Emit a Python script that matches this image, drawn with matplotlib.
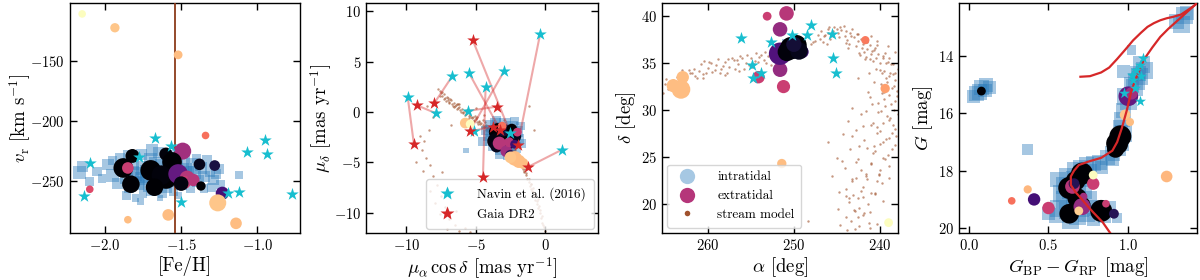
import matplotlib

matplotlib.use("Agg")

import matplotlib.pyplot as plt
from matplotlib.lines import Line2D

plt.rcParams.update({
    "font.family": "serif",
    "font.serif": ["cmr10"],
    "mathtext.fontset": "cm",
    "axes.formatter.use_mathtext": True,
    "axes.unicode_minus": True,
    "xtick.direction": "in",
    "ytick.direction": "in",
    "xtick.top": True,
    "ytick.right": True,
    "xtick.labelsize": 10.5,
    "ytick.labelsize": 10.5,
    "axes.labelsize": 13.5,
    "axes.linewidth": 1.0,
})

INTRA_COLOR = "#2b7bba"
STREAM_COLOR = "#a0522d"
NAVIN_COLOR = "#17becf"
GAIA_COLOR = "#d62728"

# ---- panel 1: [Fe/H] vs radial velocity ----
feh_intra = [-2.17, -2.15, -2.05, -2.02, -1.98, -1.95, -1.92, -1.90, -1.88, -1.86, -1.84, -1.82, -1.80, -1.78,
             -1.76, -1.75, -1.73, -1.71, -1.70, -1.68, -1.66, -1.65, -1.63, -1.61, -1.60, -1.58, -1.56, -1.55,
             -1.53, -1.51, -1.50, -1.48, -1.47, -1.45, -1.43, -1.41, -1.39, -1.37, -1.35, -1.33, -1.31, -1.29,
             -1.27, -1.25, -1.24, -1.12, -1.80, -1.77, -1.86, -1.62, -1.55, -1.70, -1.64, -1.58, -1.85, -1.69,
             -1.44, -1.35, -1.52, -2.10, -1.95, -1.40, -1.30, -1.75,
             -1.82, -1.76, -1.70, -1.64, -1.58, -1.52, -1.46, -1.79, -1.67, -1.61, -1.49, -1.73, -1.55]
vr_intra = [-243, -238, -242, -248, -236, -245, -252, -231, -240, -247, -256, -235, -244, -251,
            -228, -239, -246, -254, -232, -243, -250, -226, -237, -247, -255, -231, -241, -249,
            -236, -244, -252, -230, -240, -247, -236, -243, -250, -239, -246, -233, -242, -249,
            -244, -240, -253, -245, -264, -267, -262, -260, -258, -258, -264, -228, -228, -224,
            -256, -256, -262, -250, -233, -231, -255, -260,
            -243, -248, -239, -244, -238, -248, -243, -252, -235, -251, -240, -242, -245]
size1_intra = [90, 60, 50, 40, 70, 90, 60, 50, 90, 90, 50, 90, 90, 90,
               60, 90, 90, 70, 90, 90, 90, 70, 90, 90, 80, 90, 90, 90,
               90, 90, 80, 70, 90, 90, 80, 90, 80, 70, 70, 60, 60, 60,
               50, 50, 40, 30, 30, 25, 40, 40, 50, 50, 20, 50, 40, 70,
               40, 40, 30, 40, 40, 40, 40, 40,
               90, 90, 90, 90, 90, 90, 90, 90, 90, 90, 90, 90, 90]

feh_extra = [-2.15, -1.935, -1.52, -1.34, -1.49, -1.82, -1.60, -1.56, -1.38, -1.28, -1.88, -1.70, -1.60,
             -1.63, -1.52, -1.46, -1.48, -1.42, -1.83, -1.675, -1.50, -1.37, -1.23, -2.10, -1.26, -1.585,
             -1.85, -1.14, -1.85]
vr_extra = [-111, -122.5, -145, -212, -225, -229, -227.5, -234, -236, -237, -239, -241, -247,
            -245, -244, -247.5, -251, -249, -252.5, -255, -252, -254, -260, -256.7, -268, -278,
            -282, -285, -239]
c1_extra = [1.0, 0.88, 0.86, 0.7, 0.45, 0.0, 0.02, 0.0, 0.05, 0.12, 0.0, 0.0, 0.0,
            0.02, 0.3, 0.5, 0.55, 0.5, 0.0, 0.0, 0.03, 0.0, 0.22, 0.6, 0.88, 0.86,
            0.86, 0.86, 0.55]
s1_extra = [30, 45, 40, 30, 150, 100, 90, 200, 70, 60, 200, 220, 260,
            200, 200, 120, 90, 80, 160, 160, 110, 45, 90, 30, 150, 70,
            30, 70, 70]

feh_navin = [-2.135, -2.10, -1.78, -1.675, -1.565, -1.50, -1.19, -1.12, -1.07, -0.95, -0.935, -0.77]
vr_navin = [-262.5, -235, -230, -214, -221, -267.5, -260, -259, -226, -216, -227.5, -260.8]

feh_cluster = -1.54

# ---- panel 2: proper motions ----
pmra_stream = [-7.6, -7.5, -7.4, -7.3, -7.2, -7.1, -7.0, -6.9, -6.8, -6.7, -6.6, -6.5, -6.4, -6.3, -6.2, -6.1,
               -6.0, -5.9, -5.8, -5.7, -5.6, -5.5, -5.4, -5.3, -5.2, -5.1, -5.0, -4.9, -4.8, -4.7, -4.6, -4.5,
               -4.4, -4.3, -4.2, -4.1, -4.0, -3.9, -3.8,
               -2.4, -2.3, -2.2, -2.1, -2.0, -1.9, -1.8, -1.7, -1.6, -1.5, -1.4, -1.3, -1.2, -1.1, -1.0, -0.9,
               -0.8, -0.7, -0.6, -0.5, -0.4, -0.3, -0.2, -0.1, 0.0,
               -8.1, -8.4, -8.7, -8.9, -8.6, -8.3, -8.8, -8.1, -7.8, -8.3, -7.5, -7.9, -7.2, -7.6, -6.9, -6.5,
               -7.1, -6.2, -5.8, -8.5, -9.0, -9.3, -7.4, -7.0, -6.4, -5.4, -4.4, -3.0, -1.2, -0.8, -6.8, -5.0,
               -7.7, -6.35, -5.65, -4.95, -4.25, -2.15, -1.55, -0.95, -0.35,
               -7.55, -7.25, -6.95, -6.65, -6.35, -6.05, -5.75, -5.45, -5.15, -4.85, -4.55, -4.25, -3.95, -3.65,
               -7.0, -6.2, -5.6, -4.9, -4.3, -2.35, -2.05, -1.75, -1.45, -1.15, -0.85, -0.55, -0.25, -2.2, -1.6,
               -1.0, -0.6,
               -7.45, -7.15, -6.85, -6.55, -6.25, -5.95, -5.65, -5.35, -5.05, -4.75, -4.45, -4.15, -3.85, -2.45,
               -2.25, -1.95, -1.65, -1.35, -1.05, -0.75, -0.45, -0.15]
pmdec_stream = [2.1, 1.9, 1.6, 1.8, 1.4, 1.5, 1.2, 1.0, 1.2, 0.8, 0.9, 0.6, 0.7, 0.4, 0.5, 0.2,
                0.3, 0.0, 0.1, -0.2, -0.1, -0.4, -0.3, -0.6, -0.5, -0.8, -0.7, -1.0, -0.9, -1.2, -1.1, -1.3,
                -1.5, -1.4, -1.7, -1.6, -1.9, -1.8, -2.1,
                -3.6, -3.9, -4.1, -4.4, -4.6, -4.9, -5.1, -5.5, -5.7, -6.0, -6.3, -6.6, -6.9, -7.3, -7.6, -7.9,
                -8.3, -8.7, -9.1, -9.5, -10.0, -10.5, -11.0, -11.4, -11.8,
                -0.5, -1.8, -2.9, -3.8, -4.6, -5.3, -5.9, -6.4, -7.2, -7.8, -8.3, -9.0, -9.4, -10.1, -10.6, -11.2,
                -11.6, -11.8, -11.5, 0.6, -2.4, -5.0, -6.0, -8.0, -9.8, -11.9, -0.3, -0.8, 0.6, -1.8, -1.3, 0.4,
                2.3, 0.75, 0.05, -0.55, -1.25, -4.3, -5.9, -7.8, -9.7,
                1.6, 1.3, 0.9, 0.6, 0.3, 0.0, -0.3, -0.6, -0.9, -1.2, -1.5, -1.8, -2.1, -2.4,
                1.4, 0.8, 0.2, -0.5, -1.0, -3.9, -4.3, -5.0, -5.7, -6.6, -7.5, -8.6, -10.3, -3.8, -5.4,
                -7.1, -8.8,
                2.0, 1.1, 1.3, 0.5, 0.8, -0.1, 0.2, -0.5, -0.4, -1.0, -0.8, -1.9, -1.6, -3.4,
                -3.7, -4.4, -5.2, -6.1, -7.1, -8.1, -9.3, -11.2]

pmra_intra = [-4.3, -4.1, -4.0, -3.9, -3.8, -3.7, -3.6, -3.5, -3.4, -3.3, -3.2, -3.1, -3.0, -2.9, -2.8, -2.7,
              -2.6, -2.5, -2.4, -2.3, -2.2, -2.1, -2.0, -1.9, -1.8, -3.3, -2.7, -4.5, -1.7, -5.7, -3.5, -2.2]
pmdec_intra = [-1.8, -2.3, -1.3, -2.8, -1.9, -3.3, -1.1, -2.4, -3.0, -1.6, -3.7, -2.1, -2.8, -1.2, -3.3, -1.8,
               -2.5, -3.9, -1.5, -3.0, -2.2, -3.5, -1.9, -2.7, -1.4, -4.2, -4.3, -2.9, -3.1, -3.8, -0.8, -0.9]
size2_intra = [40, 60, 50, 70, 80, 60, 60, 90, 90, 90, 70, 90, 90, 70, 90, 90,
               90, 60, 70, 80, 80, 60, 60, 50, 40, 40, 40, 40, 40, 15, 40, 40]

pmra_extra = [-3.4, -3.1, -2.7, -3.6, -2.5, -2.2, -3.0, -2.4, -2.8, -3.5, -3.3, -2.8, -2.6, -3.1, -2.0,
              -2.5, -2.2, -2.2, -1.9, -1.6, -2.5, -5.75, -5.4]
pmdec_extra = [-2.0, -2.6, -2.2, -2.9, -2.8, -2.4, -1.8, -1.7, -3.4, -3.4, -3.1, -3.9, -3.0, -1.4, -2.0,
               -4.3, -3.2, -4.6, -4.9, -5.1, -4.5, -1.1, -1.2]
c2_extra = [0.0, 0.0, 0.02, 0.03, 0.0, 0.05, 0.1, 0.0, 0.12, 0.05, 0.5, 0.45, 0.5, 0.7, 0.55,
            0.15, 0.2, 0.86, 0.86, 0.86, 0.88, 0.88, 1.0]
s2_extra = [170, 200, 150, 130, 120, 90, 80, 60, 70, 80, 90, 70, 50, 40, 40,
            60, 40, 110, 90, 60, 70, 60, 40]

pmra_navin = [-9.9, -7.86, -6.69, -5.49, -4.29, -2.52, -2.95, -5.59, -0.36, 1.2, -5.1]
pmdec_navin = [1.5, -0.13, 3.55, 3.88, 2.5, -2.04, 4.07, 0.1, 7.76, -3.75, -1.84]
pmra_gaia = [-9.45, -9.23, -7.99, -3.24, -4.48, -5.23, -5.4, -3.48, -1.97, -1.25, -3.77]
pmdec_gaia = [-3.2, 0.66, 0.86, -1.78, -6.44, 7.17, -1.84, 0.53, -3.25, -5.46, -1.45]

# ---- panel 3: sky positions ----
ra_stream = [265.0, 264.5, 264.0, 263.5, 263.0, 262.5, 262.0, 261.5, 261.0, 260.5, 260.0, 259.5, 259.0, 258.5,
             258.0, 257.5, 257.0, 256.5, 256.0, 255.5, 255.0, 254.5, 254.0, 253.5, 253.0, 252.5, 259.8, 261.2,
             257.8, 256.2, 263.8, 254.8, 262.8, 260.8, 258.8, 256.8, 254.2, 252.8,
             248.0, 247.5, 247.0, 246.5, 246.0, 245.5, 245.0, 244.5, 244.0, 243.5, 243.0, 242.5, 242.0, 241.5,
             241.0, 240.5, 240.0, 239.5, 246.8, 245.8, 244.8, 243.8, 242.8, 241.8, 240.8, 239.8, 244.2, 246.2,
             243.2, 242.2, 241.2, 240.2, 239.0, 238.5, 245.3, 243.6, 242.6, 241.6, 240.6, 239.3, 238.2,
             239.2, 238.6, 239.8, 238.3, 239.4, 240.2, 238.8, 239.6, 238.2, 240.4, 239.0, 240.0, 238.6, 240.8,
             239.4, 241.0, 240.0, 241.6, 240.4, 242.0, 241.0, 242.6, 241.4, 243.0, 242.0, 243.4, 242.4, 243.8,
             241.2, 238.4, 238.1, 239.0, 240.6, 242.4, 243.6, 244.0, 237.9, 239.8, 241.8, 244.6, 240.8, 239.6,
             242.2, 245.6, 244.4, 244.0, 248.3, 246.0, 243.3, 238.9, 239.5, 240.9, 241.5, 242.8, 244.9, 243.1,
             238.0, 238.5, 239.1, 240.1, 241.3, 242.9,
             238.3, 239.1, 240.3, 241.1, 238.7, 239.7, 240.7, 238.2, 239.3, 240.5, 241.7, 238.9, 239.9, 241.3,
             242.3, 239.2, 240.2, 241.4, 242.6, 240.0, 241.0, 242.2, 243.2, 240.6, 241.8, 242.8, 243.7, 241.6,
             242.5, 243.5, 244.3, 242.2, 243.3, 244.1, 245.0, 242.9, 243.9, 244.8, 237.95, 238.05, 238.6, 239.4,
             264.8, 263.2, 261.8, 260.2, 258.2, 257.2, 255.2, 253.8, 262.2, 259.2, 256.6, 254.4, 265.2, 252.2,
             247.8, 247.2, 246.6, 246.0, 245.4, 244.6, 243.9, 243.4, 242.7, 242.1, 241.5, 240.9, 240.3, 239.7,
             239.1, 238.5, 245.9, 244.9, 243.7, 242.4, 241.2, 240.0, 238.8, 246.4, 244.1,
             238.4, 239.5, 240.7, 238.7, 239.9, 241.2, 239.0, 240.3, 241.6, 239.3, 240.7, 242.0, 239.7, 241.1,
             242.4, 240.1, 241.5, 242.8, 240.6, 242.0, 243.2, 241.2, 242.6, 243.6, 238.2, 238.9, 239.6, 240.4,
             264.6, 263.6, 262.6, 261.6, 260.6, 259.6, 258.6, 257.6, 256.4, 255.4, 254.6, 253.4, 252.6, 263.0,
             260.4, 258.0, 255.8, 253.2]
dec_stream = [32.8, 32.4, 33.2, 33.0, 33.6, 33.3, 34.0, 33.6, 34.2, 33.8, 34.5, 34.1, 34.8, 34.4,
              35.1, 34.6, 35.3, 34.9, 35.5, 35.0, 35.6, 35.2, 35.7, 35.3, 35.8, 35.5, 35.1, 33.4,
              34.0, 35.8, 32.6, 34.6, 32.9, 34.9, 35.4, 34.4, 35.1, 36.0,
              37.0, 37.4, 37.6, 37.9, 38.2, 38.4, 38.6, 38.5, 38.4, 38.2, 37.8, 37.4, 37.0, 36.5,
              36.0, 35.5, 35.0, 34.2, 38.4, 37.6, 37.8, 37.5, 36.8, 36.2, 35.2, 34.0, 39.0, 37.0,
              38.6, 37.6, 36.9, 36.0, 35.5, 33.8, 38.9, 37.0, 38.1, 35.7, 36.6, 35.0, 33.2,
              33.0, 32.4, 31.8, 31.0, 30.4, 29.8, 29.2, 28.6, 28.0, 27.6, 27.0, 26.4, 25.8, 25.4,
              24.8, 24.2, 23.6, 23.0, 22.4, 21.8, 21.2, 20.6, 20.0, 19.4, 18.8, 18.2, 17.6, 17.2,
              17.4, 30.0, 27.2, 24.0, 21.0, 19.6, 20.2, 18.6, 29.6, 22.2, 19.0, 17.8, 28.6, 26.6,
              23.6, 23.0, 24.6, 21.6, 18.2, 26.6, 27.2, 33.6, 31.2, 30.6, 26.0, 22.8, 19.5, 20.9,
              32.0, 28.4, 25.2, 23.2, 18.0, 17.3,
              36.2, 36.8, 37.4, 37.9, 34.9, 35.8, 36.4, 33.9, 33.4, 34.4, 35.4, 31.6, 32.8, 33.9,
              35.9, 29.4, 30.8, 31.9, 33.4, 27.8, 28.4, 29.6, 30.2, 25.6, 26.8, 27.9, 28.8, 23.2,
              24.8, 25.9, 27.4, 21.4, 22.6, 23.8, 24.9, 19.2, 20.8, 21.3, 34.4, 31.5, 27.6, 36.1,
              33.3, 32.9, 33.9, 34.0, 34.7, 35.6, 34.8, 35.9, 34.3, 34.3, 35.3, 36.1, 31.8, 35.9,
              37.2, 38.0, 37.3, 38.6, 37.9, 38.9, 37.1, 37.9, 38.1, 36.6, 37.2, 36.3, 36.9, 35.6,
              35.1, 34.9, 38.9, 38.2, 36.6, 36.1, 35.4, 34.3, 33.9, 38.0, 37.9,
              32.6, 31.9, 33.0, 30.6, 29.9, 31.4, 28.9, 28.2, 29.9, 26.9, 26.2, 28.3, 24.9, 24.4,
              26.2, 23.1, 22.6, 24.5, 21.2, 20.7, 22.4, 19.1, 18.6, 20.6, 26.3, 22.8, 20.3, 17.9,
              32.2, 33.5, 32.8, 34.4, 33.4, 35.0, 33.9, 35.4, 34.2, 35.9, 34.9, 36.2, 34.8, 34.3,
              35.2, 33.7, 34.4, 35.0]

ra_intra = [250.5, 249.8, 250.2, 249.5, 250.8, 249.2, 251.0, 250.0]
dec_intra = [36.5, 36.8, 36.0, 36.3, 37.0, 36.9, 36.2, 37.3]
size3_intra = [60, 60, 60, 60, 50, 50, 50, 50]

ra_extra = [253.1, 250.85, 251.6, 251.6, 254.1, 251.2, 251.6, 249.0, 250.3, 249.7, 250.8, 249.4, 250.0,
            262.9, 264.0, 263.1, 251.4, 241.7, 239.4, 239.0]
dec_extra = [40.0, 40.3, 38.6, 34.3, 33.5, 32.5, 36.0, 36.2, 36.6, 36.9, 36.2, 36.3, 37.0,
             33.5, 32.6, 32.2, 24.3, 37.45, 32.3, 18.0]
c3_extra = [0.55, 0.5, 0.42, 0.42, 0.55, 0.55, 0.25, 0.2, 0.0, 0.0, 0.02, 0.05, 0.1,
            0.86, 0.86, 0.86, 0.86, 0.72, 0.8, 1.0]
s3_extra = [40, 110, 110, 110, 80, 90, 260, 80, 260, 220, 180, 160, 120,
            80, 90, 180, 45, 35, 45, 40]

ra_navin = [256.1, 254.9, 254.7, 253.8, 252.6, 250.2, 248.5, 248.0, 245.6, 245.4, 245.1]
dec_navin = [37.7, 34.8, 33.4, 34.0, 37.3, 38.0, 38.0, 39.1, 38.1, 35.5, 33.9]

# ---- panel 4: colour-magnitude diagram ----
bprp_intra = [0.05, 0.08, 0.11, 0.13, 0.03, 0.07, 0.10,
              1.35, 1.33, 1.30, 1.37, 1.08, 1.10, 1.07, 1.05, 1.04, 1.06, 1.02, 0.98, 1.00, 0.97, 0.96,
              0.95, 0.97, 0.95, 0.93, 0.90, 0.87, 0.82, 0.78, 0.74, 0.70, 0.67, 1.02, 0.97,
              0.62, 0.66, 0.60, 0.64, 0.58, 0.68, 0.72, 0.60, 0.66, 0.70, 0.75, 0.56, 0.62, 0.68, 0.74,
              0.80, 0.85, 0.55, 0.78, 0.88, 0.93, 0.37, 0.83, 0.90, 0.50, 0.56, 0.72, 0.76, 0.64]
g_intra = [15.3, 15.1, 15.0, 15.1, 15.4, 15.25, 15.2,
           12.6, 12.9, 12.8, 12.5, 14.3, 14.5, 14.7, 14.9, 15.1, 14.6, 15.0, 15.4, 15.6, 15.9, 16.2,
           16.5, 16.7, 17.0, 17.2, 17.4, 17.55, 17.7, 17.75, 17.8, 17.9, 18.0, 13.8, 14.55,
           18.2, 18.3, 18.5, 18.7, 18.8, 18.6, 18.7, 19.0, 19.1, 19.3, 19.0, 19.3, 19.4, 19.6, 19.5,
           19.3, 19.6, 19.55, 19.7, 19.3, 19.65, 17.25, 17.9, 17.6, 19.5, 18.3, 18.3, 18.0, 19.75]
size4_intra = [120, 120, 100, 90, 90, 120, 100,
               150, 150, 120, 100, 150, 150, 150, 150, 150, 120, 120, 150, 150, 120, 120,
               120, 150, 150, 150, 120, 120, 120, 120, 120, 120, 150, 50, 90,
               150, 150, 150, 150, 150, 150, 150, 150, 150, 150, 150, 150, 150, 150, 150,
               120, 90, 120, 90, 90, 50, 60, 90, 90, 90, 120, 120, 90, 150]

bprp_extra = [0.08, 1.00, 1.02, 0.98, 1.01, 0.95, 0.93, 0.92, 0.71, 0.67, 0.63, 0.68, 0.71, 0.63, 0.83,
              0.65, 0.78, 0.78, 0.27, 0.37, 0.41, 0.50, 0.71, 0.69, 0.86, 0.91, 1.24, 0.72, 0.66]
g_extra = [15.22, 15.4, 15.3, 16.05, 16.3, 16.8, 17.05, 17.25, 18.1, 18.35, 18.6, 18.95, 19.2, 19.5, 19.4,
           18.55, 18.45, 18.15, 19.05, 18.65, 19.0, 19.3, 19.25, 19.4, 19.15, 19.5, 18.2, 18.9, 18.45]
c4_extra = [0.0, 0.3, 0.45, 0.88, 0.86, 0.0, 0.0, 0.0, 0.0, 0.0, 0.0, 0.0, 0.0, 0.0, 0.0,
            0.5, 0.55, 1.0, 0.7, 0.85, 0.22, 0.55, 0.42, 0.9, 0.55, 0.15, 0.85, 0.45, 0.15]
s4_extra = [40, 200, 80, 60, 35, 250, 250, 150, 250, 200, 250, 200, 150, 200, 250,
            110, 80, 40, 30, 35, 80, 80, 150, 40, 30, 50, 70, 30, 60]

bprp_navin = [1.09, 1.07, 1.05, 1.08, 1.03, 1.04, 0.97, 1.07, 1.02]
g_navin = [14.05, 14.3, 14.5, 14.7, 14.85, 15.1, 15.3, 15.55, 14.65]

iso_bprp = [0.89, 0.84, 0.78, 0.74, 0.71, 0.67, 0.64, 0.64, 0.66, 0.69, 0.75, 0.83, 0.90, 0.93, 0.96,
            0.99, 1.02, 1.06, 1.10, 1.15, 1.20, 1.25, 1.30, 1.36, 1.42, 1.47]
iso_g = [20.2, 19.8, 19.45, 19.2, 19.0, 18.75, 18.5, 18.2, 18.0, 17.8, 17.68, 17.55, 17.3, 17.0, 16.5,
         15.9, 15.2, 14.6, 14.1, 13.7, 13.33, 13.05, 12.8, 12.5, 12.2, 11.95]
hb_bprp = [0.70, 0.76, 0.83, 0.88, 0.93, 0.98, 1.03, 1.08, 1.12, 1.16, 1.20, 1.24, 1.28, 1.33, 1.37,
           1.41, 1.46]
hb_g = [14.72, 14.7, 14.57, 14.4, 14.1, 13.78, 13.45, 13.18, 12.98, 12.85, 12.75, 12.68, 12.63, 12.55,
        12.4, 12.25, 12.0]


def draw_intra(ax, x, y, s):
    ax.scatter(x, y, s=s, c=INTRA_COLOR, marker="s", alpha=0.42, linewidths=0, zorder=2)


def draw_extra(ax, x, y, c, s):
    ax.scatter(x, y, s=s, c=c, cmap="magma", vmin=0, vmax=1, linewidths=0, zorder=4)


def draw_stars(ax, x, y, color, s=90):
    ax.scatter(x, y, s=s, c=color, marker="*", linewidths=0, zorder=6)


def draw_stream(ax, x, y):
    ax.scatter(x, y, s=3, c=STREAM_COLOR, alpha=0.6, linewidths=0, zorder=1)


fig = plt.figure(figsize=(12, 2.8), dpi=100)
ax1 = fig.add_axes([0.0583, 0.168, 0.1917, 0.821])
ax2 = fig.add_axes([0.305, 0.168, 0.1933, 0.821])
ax3 = fig.add_axes([0.5517, 0.168, 0.1967, 0.821])
ax4 = fig.add_axes([0.7992, 0.168, 0.1983, 0.821])

# panel 1
draw_intra(ax1, feh_intra, vr_intra, size1_intra)
ax1.axvline(feh_cluster, color="#8b3a1a", lw=1.3, zorder=3)
draw_extra(ax1, feh_extra, vr_extra, c1_extra, s1_extra)
draw_stars(ax1, feh_navin, vr_navin, NAVIN_COLOR)
ax1.set_xlim(-2.23, -0.72)
ax1.set_ylim(-293, -102)
ax1.set_xticks([-2.0, -1.5, -1.0])
ax1.set_yticks([-250, -200, -150])
ax1.set_xlabel("[Fe/H]", labelpad=2)
ax1.set_ylabel(r"$v_{\rm r}$ [km s$^{-1}$]", labelpad=-2)

# panel 2
draw_stream(ax2, pmra_stream, pmdec_stream)
for xn, yn, xg, yg in zip(pmra_navin, pmdec_navin, pmra_gaia, pmdec_gaia):
    ax2.plot([xn, xg], [yn, yg], color=GAIA_COLOR, alpha=0.4, lw=1.5, zorder=3)
draw_intra(ax2, pmra_intra, pmdec_intra, size2_intra)
draw_extra(ax2, pmra_extra, pmdec_extra, c2_extra, s2_extra)
draw_stars(ax2, pmra_navin, pmdec_navin, NAVIN_COLOR)
draw_stars(ax2, pmra_gaia, pmdec_gaia, GAIA_COLOR)
ax2.set_xlim(-12.9, 3.8)
ax2.set_ylim(-12, 10.8)
ax2.set_xticks([-10, -5, 0])
ax2.set_yticks([-10, -5, 0, 5, 10])
ax2.set_xlabel(r"$\mu_{\alpha}\,\cos\delta$ [mas yr$^{-1}$]", labelpad=2)
ax2.set_ylabel(r"$\mu_{\delta}$ [mas yr$^{-1}$]", labelpad=0)
handles2 = [
    Line2D([], [], ls="none", marker="*", ms=10, mfc=NAVIN_COLOR, mec="none"),
    Line2D([], [], ls="none", marker="*", ms=10, mfc=GAIA_COLOR, mec="none"),
]
ax2.legend(handles2, ["Navin et al. (2016)", "Gaia DR2"], loc="lower right", fontsize=9.5,
           borderpad=0.6, labelspacing=0.6, handletextpad=1.3, borderaxespad=0.3)

# panel 3
draw_stream(ax3, ra_stream, dec_stream)
draw_intra(ax3, ra_intra, dec_intra, size3_intra)
draw_extra(ax3, ra_extra, dec_extra, c3_extra, s3_extra)
draw_stars(ax3, ra_navin, dec_navin, NAVIN_COLOR)
ax3.set_xlim(265.3, 237.9)
ax3.set_ylim(16.9, 41.4)
ax3.set_xticks([260, 250, 240])
ax3.set_yticks([20, 25, 30, 35, 40])
ax3.set_xlabel(r"$\alpha$ [deg]", labelpad=2)
ax3.set_ylabel(r"$\delta$ [deg]", labelpad=2)
handles3 = [
    Line2D([], [], ls="none", marker="o", ms=11, mfc="#a6c8e3", mec="none"),
    Line2D([], [], ls="none", marker="o", ms=11, mfc="#b5367a", mec="none"),
    Line2D([], [], ls="none", marker="o", ms=4, mfc=STREAM_COLOR, mec="none"),
]
ax3.legend(handles3, ["intratidal", "extratidal", "stream model"], loc="lower left", fontsize=9.5,
           borderpad=0.5, labelspacing=0.5, handletextpad=1.3, borderaxespad=0.4)

# panel 4
draw_intra(ax4, bprp_intra, g_intra, size4_intra)
draw_extra(ax4, bprp_extra, g_extra, c4_extra, s4_extra)
ax4.plot(iso_bprp, iso_g, color=GAIA_COLOR, lw=1.6, zorder=5)
ax4.plot(hb_bprp, hb_g, color=GAIA_COLOR, lw=1.6, zorder=5)
draw_stars(ax4, bprp_navin, g_navin, NAVIN_COLOR, s=70)
ax4.set_xlim(-0.06, 1.43)
ax4.set_ylim(20.17, 12.15)
ax4.set_xticks([0.0, 0.5, 1.0])
ax4.set_yticks([14, 16, 18, 20])
ax4.set_xlabel(r"$G_{\rm BP}-G_{\rm RP}$ [mag]", labelpad=2)
ax4.set_ylabel(r"$G$ [mag]", labelpad=2)

for ax in (ax1, ax2, ax3, ax4):
    ax.tick_params(length=5, width=1)

fig.savefig("out.png", dpi=100)
